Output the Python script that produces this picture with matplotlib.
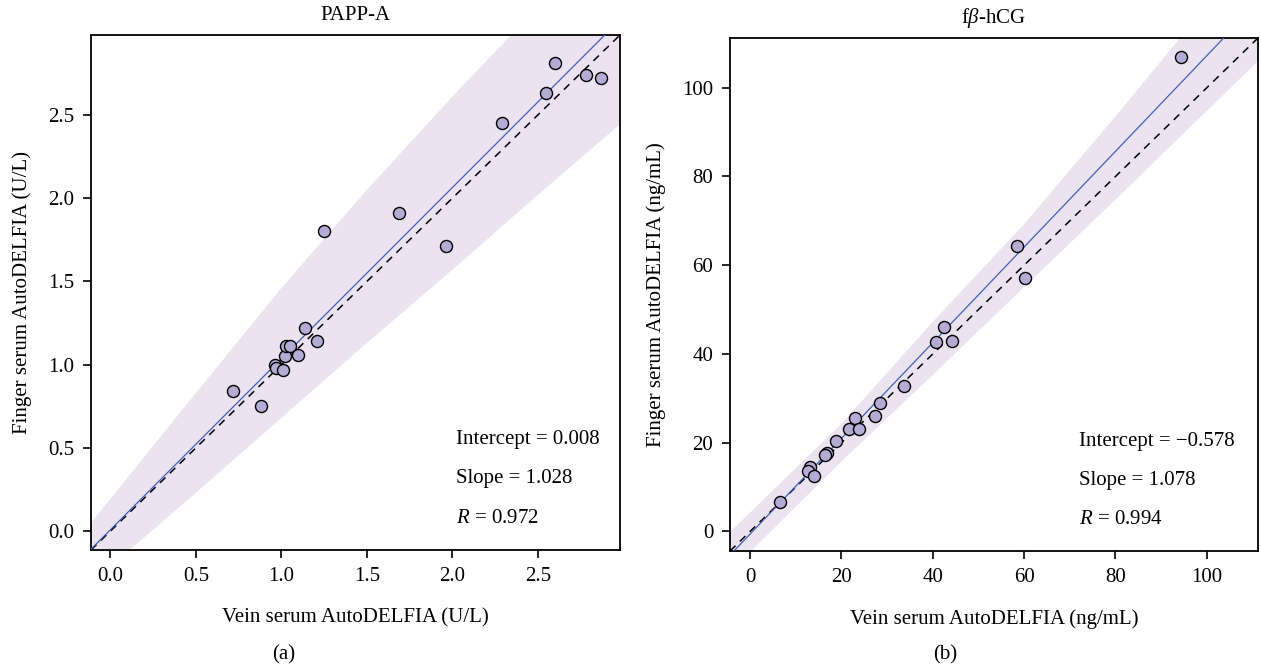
import matplotlib
matplotlib.use("Agg")
import matplotlib.pyplot as plt
import numpy as np

plt.rcParams["font.family"] = ["Liberation Serif", "DejaVu Serif"]
plt.rcParams["mathtext.fontset"] = "custom"
plt.rcParams["mathtext.rm"] = "Liberation Serif"
plt.rcParams["mathtext.it"] = "Liberation Serif:italic"

# PAPP-A (U/L): vein vs finger serum
papp_vein = [0.72, 0.88, 0.96, 0.97, 1.01, 1.02, 1.03, 1.05, 1.10, 1.14, 1.21,
             1.25, 1.69, 1.96, 2.29, 2.55, 2.60, 2.78, 2.87]
papp_finger = [0.84, 0.75, 1.00, 0.98, 0.97, 1.05, 1.11, 1.11, 1.06, 1.22, 1.14,
               1.80, 1.91, 1.71, 2.45, 2.63, 2.81, 2.74, 2.72]
papp_fit = (0.008, 1.028)
papp_stats = ["Intercept = 0.008", "Slope = 1.028", "$R$ = 0.972"]
papp_band_x = [-0.2, 0.5, 1.0, 1.5, 2.0, 2.5, 3.1]
papp_band_lo = [-0.39, 0.23, 0.68, 1.13, 1.57, 2.02, 2.55]
papp_band_hi = [-0.06, 0.83, 1.46, 2.05, 2.61, 3.15, 3.80]

# f-beta-hCG (ng/mL): vein vs finger serum
hcg_vein = [94.4, 58.4, 60.1, 42.4, 40.7, 44.3, 33.8, 28.4, 27.4, 23.0, 21.7,
            23.8, 18.9, 16.9, 16.5, 13.2, 12.6, 14.1, 6.5]
hcg_finger = [107.0, 64.3, 57.2, 46.1, 42.8, 43.0, 32.8, 28.9, 26.1, 25.5, 23.1,
              23.1, 20.3, 17.7, 17.2, 14.5, 13.6, 12.4, 6.6]
hcg_fit = (-0.578, 1.078)
hcg_stats = ["Intercept = \u22120.578", "Slope = 1.078", "$R$ = 0.994"]
hcg_band_x = [-6, 20, 40, 60, 80, 95, 115]
hcg_band_lo = [-10.5, 16.0, 35.5, 55.3, 75.0, 90.0, 110.0]
hcg_band_hi = [-1.5, 24.5, 47.5, 69.5, 93.8, 112.5, 137.5]

fig = plt.figure(figsize=(12.61, 6.67), dpi=100)
ax1 = fig.add_axes([91 / 1261, 1 - 550 / 667, 529 / 1261, 515 / 667])
ax2 = fig.add_axes([730 / 1261, 1 - 551 / 667, 528 / 1261, 513 / 667])

panels = [
    (ax1, papp_vein, papp_finger, papp_fit, papp_stats, papp_band_x, papp_band_lo,
     papp_band_hi, (-0.113, 2.98), np.arange(0, 2.51, 0.5), "PAPP-A",
     "Vein serum AutoDELFIA (U/L)", "Finger serum AutoDELFIA (U/L)", 0.69),
    (ax2, hcg_vein, hcg_finger, hcg_fit, hcg_stats, hcg_band_x, hcg_band_lo,
     hcg_band_hi, (-4.4, 111.2), np.arange(0, 101, 20), "f$\\beta$-hCG",
     "Vein serum AutoDELFIA (ng/mL)", "Finger serum AutoDELFIA (ng/mL)", 0.661),
]

for (ax, vx, vy, fit, stats, bx, blo, bhi, lim, ticks, title,
     xlabel, ylabel, tx) in panels:
    ax.fill_between(bx, blo, bhi, color="#ebe3f0", lw=0, zorder=1)
    ax.plot(lim, lim, color="black", lw=1.1, ls=(0, (5, 4)), zorder=2)
    xs = np.array([lim[0] - 1, lim[1] + 1])
    ax.plot(xs, fit[0] + fit[1] * xs, color="#3f5fb5", lw=0.9, zorder=3)
    ax.scatter(vx, vy, s=75, facecolor="#b4acd4", edgecolor="black",
               linewidth=1.0, zorder=4)
    ax.set_xlim(lim)
    ax.set_ylim(lim)
    ax.set_xticks(ticks)
    ax.set_yticks(ticks)
    if ticks[-1] < 10:
        ax.set_xticklabels([f"{t:.1f}" for t in ticks])
        ax.set_yticklabels([f"{t:.1f}" for t in ticks])
    ax.tick_params(direction="out", length=6, width=1.2, labelsize=15, pad=6,
                   top=False, right=False)
    for sp in ax.spines.values():
        sp.set_linewidth(1.3)
    ax.set_title(title, fontsize=15, pad=11)
    ax.set_xlabel(xlabel, fontsize=15, labelpad=16)
    ax.set_ylabel(ylabel, fontsize=15, labelpad=12)
    for i, s in enumerate(stats):
        ax.text(tx, [0.214, 0.138, 0.062][i], s, transform=ax.transAxes,
                fontsize=15, va="center", ha="left")

fig.text(284 / 1261, 1 - 655 / 667, "(a)", ha="center", va="center", fontsize=15)
fig.text(945 / 1261, 1 - 655 / 667, "(b)", ha="center", va="center", fontsize=15)

fig.savefig("out.png", dpi=100)
